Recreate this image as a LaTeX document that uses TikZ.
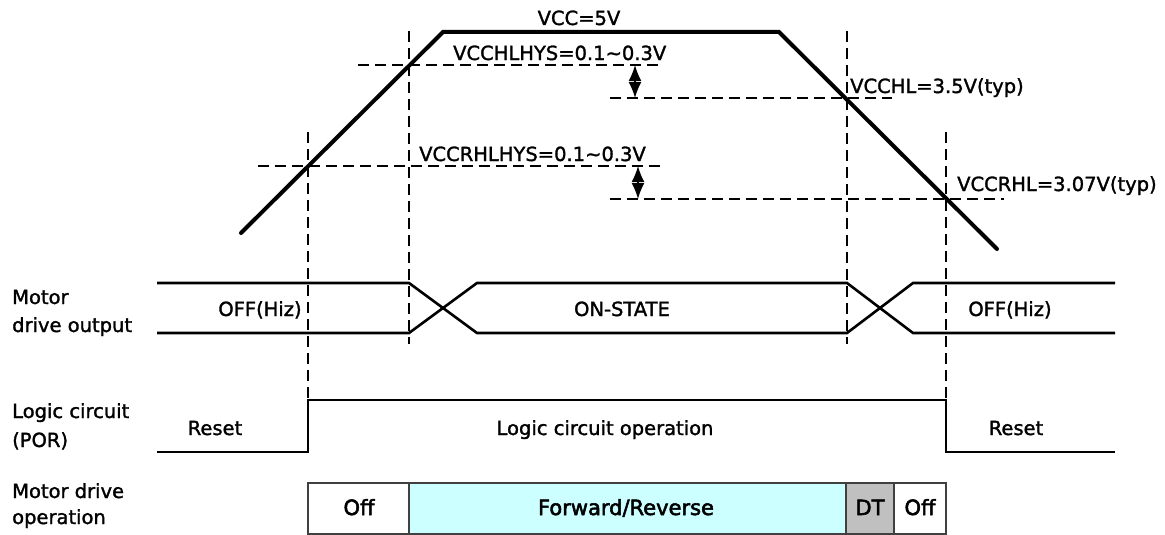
\documentclass[tikz,border=0pt]{standalone}
\usepackage{fontspec}
\setmainfont{DejaVu Sans}
\newfontfamily\lblfont{DejaVu Sans}[FakeBold=1.5]
\newfontfamily\cellfont{DejaVu Sans}[FakeBold=2.5]
\usetikzlibrary{arrows.meta}
\definecolor{fwcyan}{HTML}{CCFFFF}
\definecolor{dtgray}{HTML}{C0C0C0}
\definecolor{boxline}{HTML}{404040}
\tikzset{
  lbl/.style={inner sep=0pt, font=\lblfont\fontsize{19.5}{23}\selectfont},
  boxlbl/.style={inner sep=0pt, font=\cellfont\fontsize{21}{25}\selectfont},
  vwave/.style={line width=4pt, line cap=round, line join=miter},
  sig/.style={line width=2.6pt, line join=miter},
  guide/.style={line width=1.4pt, dash pattern=on 11pt off 6pt},
  hysarrow/.style={line width=1.6pt, {Latex[length=16pt,width=13pt]}-{Latex[length=16pt,width=13pt]}},
  cell/.style={draw=boxline, line width=1.2pt}
}
\begin{document}
\begin{tikzpicture}[x=1pt,y=-1pt]
\useasboundingbox (0,0) rectangle (1165,535);
% supply waveform
\coordinate (v0) at (241,233);
\coordinate (v1) at (443,32);
\coordinate (v2) at (779,32);
\coordinate (v3) at (997,249);
\draw[vwave] (v0) -- (v1) -- (v2) -- (v3);
\node[lbl, anchor=base] (vcc) at (579,25) {VCC=5V};

% threshold guides
\coordinate (hA1) at (358,65);  \coordinate (hA2) at (664,65);
\coordinate (hB1) at (610,98);  \coordinate (hB2) at (892,98);
\coordinate (hC1) at (258,166); \coordinate (hC2) at (665,166);
\coordinate (hD1) at (610,199); \coordinate (hD2) at (1004,199);
\draw[guide] (hA1) -- (hA2);
\draw[guide] (hB1) -- (hB2);
\draw[guide] (hC1) -- (hC2);
\draw[guide] (hD1) -- (hD2);

\coordinate (g1t) at (409,31);  \coordinate (g1b) at (409,344);
\coordinate (g2t) at (847,31);  \coordinate (g2b) at (847,344);
\coordinate (g3t) at (308,132); \coordinate (g3b) at (308,400);
\coordinate (g4t) at (946,132); \coordinate (g4b) at (946,400);
\draw[guide] (g1t) -- (g1b);
\draw[guide] (g2t) -- (g2b);
\draw[guide] (g3t) -- (g3b);
\draw[guide] (g4t) -- (g4b);

\coordinate (a1t) at (635,65); \coordinate (a1b) at (635,98);
\coordinate (a2t) at (638,166); \coordinate (a2b) at (638,199);
\draw[hysarrow] (a1t) -- (a1b);
\draw[hysarrow] (a2t) -- (a2b);

\node[lbl, anchor=base west] (hys1) at (453,60) {VCCHLHYS=0.1∼0.3V};
\node[lbl, anchor=base west] (vcchl) at (850,93) {VCCHL=3.5V(typ)};
\node[lbl, anchor=base west] (hys2) at (419,161) {VCCRHLHYS=0.1∼0.3V};
\node[lbl, anchor=base west] (vccrhl) at (957,191) {VCCRHL=3.07V(typ)};

% motor drive output
\draw[sig] (157,283) -- (409,283) -- (477,333) -- (847,333) -- (913,283) -- (1115,283);
\draw[sig] (157,333) -- (409,333) -- (477,283) -- (847,283) -- (913,333) -- (1115,333);
\node[lbl, anchor=base] (off1) at (260,316) {OFF(Hiz)};
\node[lbl, anchor=base] (on) at (622,316) {ON-STATE};
\node[lbl, anchor=base] (off2) at (1010,316) {OFF(Hiz)};

% logic circuit
\draw[sig] (157,452) -- (308,452) -- (308,400) -- (946,400) -- (946,452) -- (1115,452);
\node[lbl, anchor=base] (rst1) at (215,435) {Reset};
\node[lbl, anchor=base] (logic) at (605,435) {Logic circuit operation};
\node[lbl, anchor=base] (rst2) at (1016,435) {Reset};

% motor drive operation
\draw[cell] (308,483) rectangle (409,534);
\draw[cell, fill=fwcyan] (409,483) rectangle (846,534);
\draw[cell, fill=dtgray] (846,483) rectangle (894,534);
\draw[cell] (894,483) rectangle (946,534);
\node[boxlbl, anchor=base] (c1) at (359,515) {Off};
\node[boxlbl, anchor=base] (c2) at (626,515) {Forward/Reverse};
\node[boxlbl, anchor=base] (c3) at (870,515) {DT};
\node[boxlbl, anchor=base] (c4) at (920,515) {Off};

% row labels
\node[lbl, anchor=base west] (l1a) at (12,304) {Motor};
\node[lbl, anchor=base west] (l1b) at (12,332) {drive output};
\node[lbl, anchor=base west] (l2a) at (12,418) {Logic circuit};
\node[lbl, anchor=base west] (l2b) at (12,447) {(POR)};
\node[lbl, anchor=base west] (l3a) at (12,498) {Motor drive};
\node[lbl, anchor=base west] (l3b) at (12,524) {operation};
\end{tikzpicture}
\end{document}
